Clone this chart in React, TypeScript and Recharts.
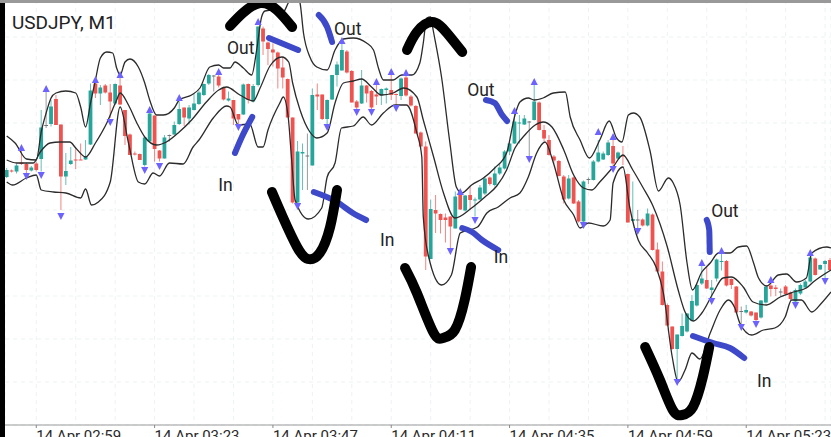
import React from "react";
import { ComposedChart, Bar, Line, XAxis, YAxis, CartesianGrid, ReferenceDot } from "recharts";

// The source shows no price scale, so levels are read as chart-height units counted from the top.
// [open, high, low, close]
const candleRows: number[][] = [
  [177,168,178,170],[170.5,169.5,172.5,171.5],[171.5,163.5,173.5,165.5],[162.5,148,165,164],[164,162.5,175,170],[170.5,166,171.5,167.5],
  [163.5,161.5,171.5,170],[159,110,171.5,127.5],[125,92,128,125],[124,100,126.5,106.5],[99,95,125,125],[124.5,124.5,210,176.5],
  [176.5,153,185,171],[164,147,165,160.5],[159.5,148,169,160.5],[159.5,143.5,160,160],[159.5,140,160,156.5],[144.5,83.5,145,90.5],
  [83.5,80,98,93.5],[93.5,85,105,87.5],[85.5,84,93.5,92.5],[92.5,84,118,101.5],[103.5,83.5,105,84],[85.5,76.5,105,104.5],
  [110,110,145,136],[134.5,133.5,155,155],[153.5,151.5,155.5,154.5],[154,153.5,160,160],[165,137.5,166.5,137.5],[141.5,112,142,113.5],
  [115.5,115.5,161.5,149],[150.5,150,161.5,158.5],[158.5,135,158.5,137.5],[135,134.5,141.5,135],[134.5,121.5,135,125],[124,101.5,125,109],
  [107.5,107.5,126,117.5],[118.5,105,124.5,107.5],[110,93.5,110.5,103.5],[104,90.5,105,92.5],[95,83.5,96,84],[83.5,74,85,75],
  [75.5,75,91.5,75.5],[76.5,75,87.5,85.5],[87.5,86.5,100.5,99.5],[100.5,91.5,101.5,98.5],[100,100,125,118.5],[114,114,125,119.5],
  [114.5,83.5,115,84.5],[84,83.5,103.5,100],[101.5,84,102.5,86],[85,26.5,86.5,26.5],[28.5,26.5,55,41.5],[42.5,41.5,65,49],
  [49.5,43.5,66.5,52.5],[52.5,51.5,88.5,68.5],[67.5,56.5,88.5,77.5],[79,78.5,117.5,117.5],[117.5,117.5,203.5,202.5],[202.5,141,204,151.5],
  [153.5,143.5,190,152],[155.5,133.5,190,155.5],[165.5,88.5,165.5,95],[94.5,83.5,110,96.5],[94.5,94.5,120,119],[119,99.5,125,100],
  [99.5,75,100,75],[75,61.5,86.5,64.5],[70.5,43.5,70.5,50],[51.5,50,73.5,72.5],[71,70,102.5,102.5],[101.5,100,110,107.5],
  [103.5,70,104,85.5],[85.5,85,102.5,93.5],[91,90,110,107.5],[94.5,85,105,96.5],[95.5,88.5,105,89],[90,87.5,103.5,88.5],
  [90,75,100,95],[94,93.5,106.5,95],[96,77.5,100,78.5],[77.5,75,96.5,95.5],[96.5,95,106.5,105.5],[106,105,133.5,133.5],
  [132.5,131.5,148.5,146.5],[146.5,141.5,270,256.5],[259,199.5,259,209],[210,195,233,213.5],[214,213.5,233.5,220],[217.5,213.5,242.5,220],
  [216.5,216.5,250,226.5],[228.5,191.5,228.5,196.5],[195,190,210,209.5],[210.5,195,211.5,195.5],[195,186.5,210,200],[200,197.5,216.5,199.5],
  [199.5,185,200,187.5],[193.5,176.5,195,178.5],[177.5,176.5,185.5,184],[185,166.5,186.5,173.5],[173.5,164,175,167.5],[168.5,150,169.5,151.5],
  [151.5,141.5,155,143.5],[143.5,113.5,144,121.5],[123.5,115,143.5,122.5],[124.5,115,125,118.5],[121.5,121,156.5,121.5],[120,85,120.5,101.5],
  [102.5,101.5,130.5,130],[130,125,141.5,138.5],[140,135,155.5,155],[156.5,155,163.5,160.5],[161,160,176.5,176],[176.5,175,203.5,199.5],
  [198.5,175,199.5,178.5],[177.5,176.5,204,203.5],[201.5,200,222.5,221.5],[221.5,180.5,223.5,181.5],[179,177.5,184,179],[180,160,180.5,161.5],
  [161.5,140,162.5,152.5],[159.5,151.5,160,153.5],[155,140,156,142.5],[146,137.5,166.5,163.5],[158.5,151.5,159,152.5],[155,146,165,156.5],
  [174,173.5,222.5,222.5],[221,181.5,221.5,219],[219.5,210,228,219.5],[219.5,218.5,226.5,225.5],[225.5,208.5,226.5,213.5],[214.5,213.5,250.5,250],
  [249.5,242.5,272.5,271.5],[271.5,261.5,305.5,305],[305,303.5,326.5,325.5],[326.5,326.5,349.5,349],[349,334.5,380,334.5],[336,313.5,336.5,326],
  [331.5,313,332.5,313.5],[320.5,295,321.5,301],[305.5,283.5,306.5,285],[283.5,265,285,278.5],[280,266.5,289,288.5],[290,280,300,287.5],
  [278.5,258.5,281.5,259.5],[261.5,253.5,270.5,261],[261,260,286.5,285.5],[279,278.5,289,285],[286.5,286,313.5,312.5],[311,306.5,325,311],
  [312.5,305,313.5,310],[311.5,311,316.5,315.5],[312.5,312.5,321.5,320],[317.5,300,318.5,300.5],[302.5,285,303.5,286.5],[285.5,281.5,296.5,289],
  [287.5,285,296,289],[291.5,288.5,296.5,291.5],[286.5,285,295.5,294],[292.5,291.5,300.5,299],[301.5,288.5,303.5,290],[293.5,283.5,295,285],
  [287.5,280,288.5,281.5],[281.5,255,282.5,257.5],[258.5,257.5,275.5,275],[269.5,264.5,270,265],[264,260,278.5,261],[260,258,271,270],
];

// [candle index, level]
const upperBand: number[][] = [
  [0,136],[1.7,143],[4,159],[6,160],[7,132],[8,113],[9,98],[10,93],[12,91],[14,93],[15,107],[16,127],[17,103],[18,80],[19,58],[20.3,52],[21.5,53],[22.3,68],[23,75],[24,62],[25,59],[26.7,67],[28,83],[29,100],[30.4,115],[31.8,115],[34,108],[35,100],[37.5,95],[39.2,88],[41.2,67],[43,65],[44,68],[45.3,68],[46.3,62],[48,68],[49.7,75],[50.7,50],[51.7,17],[52.4,11],[54,10],[55.8,14],[57.1,3],[58.3,-10],[59.5,3],[60.2,33],[61.5,57],[62.9,67],[65,70],[66.6,50],[68.3,39],[70.3,38],[73,43],[74.4,50],[75.4,68],[76.4,80],[78.4,80],[80.1,75],[82.2,75],[83.8,63],[84.5,43],[85.2,18],[86,17],[86.5,30],[88.2,77],[89.9,143],[91.2,187],[92.3,193],[94.3,185],[96.7,178],[99,168],[101.4,153],[103.1,115],[104.1,102],[105.8,98],[107,100],[108.8,98],[110.9,93],[113.3,92],[114.3,117],[116.3,140],[118.2,158],[120.3,140],[122.2,121],[123.7,138],[124.8,142],[126.1,115],[127.1,113],[128.4,117],[130.5,151],[132.2,191],[134.2,178],[135.2,183],[136.6,205],[138,263],[139.1,290],[141,272],[142.7,263],[144.4,253],[146.7,253],[148.4,247],[150.1,246],[151.5,263],[152.5,278],[154.2,286],[156.5,275],[158.2,274],[160.2,282],[162.2,278],[163.3,253],[166.3,247],[167.2,248],
];
const middleBand: number[][] = [
  [0,160],[2,163],[5.4,163],[6.8,152],[8.8,143],[10.8,142],[12.8,142],[14,148],[16,157],[18,143],[20.3,123],[22.3,100],[23,93],[24.7,105],[26.4,123],[28,137],[30.4,145],[32.4,142],[35,132],[37.5,120],[40.5,102],[43,90],[44.6,87],[47.3,95],[50,101],[51.4,88],[53.4,66],[55.8,57],[57.2,62],[58,83],[59.5,110],[61.5,132],[62.9,138],[65,133],[66.6,103],[68.3,83],[70.3,81],[72,79],[74,87],[76,95],[78.4,93],[80.5,88],[83.2,97],[84.5,120],[86.6,157],[88.6,193],[90.9,218],[94.3,208],[97,197],[99.4,186],[101.4,170],[103.1,148],[105.1,135],[107.2,125],[108.8,122],[110.6,127],[113,150],[115,175],[117,188],[118.7,190],[120.3,182],[123,167],[125,155],[127,170],[129,187],[131,205],[134,247],[136.2,290],[137.6,312],[139.3,321],[141,313],[143.3,293],[145.3,278],[147,277],[149.4,287],[151.4,302],[154.1,305],[156.9,297],[159.6,292],[162.2,288],[163.6,282],[167.2,270],
];
const lowerBand: number[][] = [
  [0,182],[1.2,185],[4,178],[6,175],[7,190],[9.5,192],[12,193],[15,198],[16,189],[17.2,205],[18.6,202],[21,182],[23,107],[24.7,143],[26.7,182],[28,184],[29.7,173],[31,176],[33,163],[35.8,164],[37.8,147],[39,140],[41.9,118],[44.6,106],[45.3,107],[47,125],[49.3,124],[51,147],[52,147],[53,130],[55.4,103],[56.1,97],[57.1,117],[57.8,160],[58.5,200],[61.2,219],[63.9,208],[65,177],[66.6,163],[67.9,128],[70.3,126],[72.3,117],[74,125],[76.4,113],[78.8,105],[81.1,105],[83.2,133],[84.2,157],[84.5,217],[85.6,257],[88.2,285],[90.2,275],[92,233],[95.5,227],[97.4,213],[99.7,207],[102.1,198],[104.1,193],[105.8,177],[107.5,153],[109.2,142],[110.9,163],[113,200],[115,215],[116.3,228],[118,223],[121,226],[122.4,220],[123,183],[125,167],[126.4,208],[128.1,240],[130,253],[131.8,268],[133.2,293],[135,357],[136.2,382],[137.6,370],[139,353],[140.6,359],[142.7,333],[144.7,310],[146.4,300],[147.7,308],[148.7,323],[151.1,335],[153.5,330],[155.8,328],[157.9,317],[159.2,300],[161.2,300],[163.3,312],[165.3,303],[167.2,292],
];

const upSignals: number[][] = [[3,148],[8,89],[18,80],[23,75],[29,110],[35,98],[43,72],[51,22],[68,41],[75,82],[78,72],[81,73],[92,192],[103,111],[107,82],[120,132],[123,137],[141,263],[145,251],[155,280],[163,253]];
const downSignals: number[][] = [[4,176],[7,175],[11,216],[21,122],[28,170],[31,166],[47,127],[59,206],[65,127],[71,112],[74,112],[79,108],[90,251],[95,220],[106,159],[117,225],[123,169],[128,231],[136,382],[143,301],[149,327],[152,324],[160,305],[166,281]];

// Hand-drawn annotations
const blackStrokes: number[][][] = [
  [[45.3,26],[47.9,13],[51.4,3],[54.8,10],[57.9,27]],
  [[53.8,192],[56,217],[58.9,247],[61.1,259],[63.5,253],[65.6,227],[67,190]],
  [[81.2,50],[83.2,32],[86.3,22],[89.3,33],[92.4,52]],
  [[80.8,268],[83.2,293],[86.5,332],[88.5,338],[90.9,330],[92.9,300],[94.2,267]],
  [[129.5,347],[132.5,380],[135.1,410],[137,415],[139.2,407],[141.2,377],[142.5,347]],
];
const blueStrokes: number[][][] = [
  [[46.3,153],[47.7,137],[49.8,117]],
  [[53.2,38],[59.1,50]],
  [[63.3,15],[65,27],[66,42]],
  [[62.3,192],[67,202],[70.2,213],[72.9,220]],
  [[97.2,100],[99,103],[100.5,115],[101.5,121]],
  [[92.4,228],[94.4,232],[96.4,240],[99.7,250]],
  [[142,220],[142.5,230],[142.6,252]],
  [[139.2,336],[143.3,343],[146.7,348],[149.6,358]],
];
const noteLabels: string[] = ["Out", "In", "Out", "In", "Out", "In", "Out", "In"];
const notePositions: number[][] = [[44.7,54],[42.9,191],[66.4,35],[75.7,246],[93.4,96],[98.8,263],[142.9,217],[152.2,387]];

const gridTicks: number[] = [6,14,22,30,38,46,54,62,70,78,86,94,102,110,118,126,134,142,150,158,166];
const timeLabels: Record<number, string> = {
  6: "14 Apr 02:59", 30: "14 Apr 03:23", 54: "14 Apr 03:47", 78: "14 Apr 04:11",
  102: "14 Apr 04:35", 126: "14 Apr 04:59", 150: "14 Apr 05:23",
};
const levelTicks: number[] = [37,80,123,167,210,253,296,339,382];

const GREEN = "#26a69a";
const RED = "#ef5350";
const DOJI = "#6f7478";
const FONT = "Roboto, sans-serif";

const candles = candleRows.map(([open, high, low, close], k) => ({ k, open, high, low, close }));
const toPoints = (rows: number[][]) => rows.map(([k, y]) => ({ k, y }));

const CandleShape = (props: any) => {
  const { x, y, width, height, payload } = props;
  const top = Math.min(y, y + height);
  const span = Math.abs(height);
  const unit = span / Math.max(payload.low - payload.high, 0.01);
  const cx = x + width / 2;
  const upper = Math.min(payload.open, payload.close);
  const lower = Math.max(payload.open, payload.close);
  const flat = payload.open === payload.close;
  const color = flat ? DOJI : payload.close < payload.open ? GREEN : RED;
  const bodyY = top + (upper - payload.high) * unit;
  const bodyH = Math.max((lower - upper) * unit, 1);
  return (
    <g>
      <line x1={cx} x2={cx} y1={top} y2={top + span} stroke={color} strokeWidth={1} opacity={0.7} />
      <rect x={cx - 1.9} width={3.8} y={bodyY} height={bodyH} fill={color} />
    </g>
  );
};

const UpArrow = (props: any) => {
  const { cx, cy, index } = props;
  return <path key={index} d={`M${cx} ${cy - 4}L${cx + 3.6} ${cy + 3}L${cx - 3.6} ${cy + 3}Z`} fill="#6c63ff" />;
};
const DownArrow = (props: any) => {
  const { cx, cy, index } = props;
  return <path key={index} d={`M${cx} ${cy + 4}L${cx + 3.6} ${cy - 3}L${cx - 3.6} ${cy - 3}Z`} fill="#6c63ff" />;
};

const TimeTick = (props: any) => {
  const { x, payload } = props;
  const text = timeLabels[payload.value];
  if (!text) return <g />;
  return (
    <g>
      <line x1={x} x2={x} y1={425} y2={428} stroke="#888" />
      <text x={x} y={441} textAnchor="start" fontFamily={FONT} fontSize={15} fill="#2a2a2a">{text}</text>
    </g>
  );
};

const NoteShape = (label: string) => (props: any) => (
  <g opacity={0.99}>
    <text x={props.cx} y={props.cy} fontFamily={FONT} fontSize={17.5} fontWeight={400} fill="#222">{label}</text>
  </g>
);

export default function App() {
  return (
    <div style={{ position: "absolute", left: 0, top: 0, width: 831, height: 437, overflow: "hidden", background: "#fff" }}>
      <ComposedChart
        width={831}
        height={437}
        data={candles}
        margin={{ top: 0, right: 0, bottom: 0, left: 5 }}
      >
        <CartesianGrid stroke="#edf2f5" strokeDasharray="4 4" />
        <XAxis
          dataKey="k"
          type="number"
          domain={[-0.345, 167.2]}
          allowDataOverflow
          ticks={gridTicks}
          interval={0}
          height={12}
          tick={<TimeTick />}
          tickLine={false}
          axisLine={{ stroke: "#999", strokeWidth: 1.2 }}
        />
        <YAxis
          hide
          type="number"
          reversed
          domain={[0, 425]}
          allowDataOverflow
          ticks={levelTicks}
          interval={0}
        />
        <Bar dataKey={(d: any) => [d.high, d.low]} barSize={4} shape={<CandleShape />} isAnimationActive={false} />
        <Line data={toPoints(upSignals)} dataKey="y" stroke="none" dot={<UpArrow />} activeDot={false} isAnimationActive={false} />
        <Line data={toPoints(downSignals)} dataKey="y" stroke="none" dot={<DownArrow />} activeDot={false} isAnimationActive={false} />
        {[upperBand, middleBand, lowerBand].map((band, i) => (
          <Line key={i} data={toPoints(band)} dataKey="y" type="monotone" stroke="#2b2b2b" strokeWidth={1.3} dot={false} activeDot={false} isAnimationActive={false} />
        ))}
        {blueStrokes.map((s, i) => (
          <Line key={`b${i}`} data={toPoints(s)} dataKey="y" type="monotone" stroke="#3d49c9" strokeWidth={6} strokeLinecap="round" dot={false} activeDot={false} isAnimationActive={false} />
        ))}
        {blackStrokes.map((s, i) => (
          <Line key={`k${i}`} data={toPoints(s)} dataKey="y" type="natural" stroke="#000" strokeWidth={10} strokeLinecap="round" dot={false} activeDot={false} isAnimationActive={false} />
        ))}
        {notePositions.map(([k, y], i) => (
          <ReferenceDot key={`n${i}`} x={k} y={y} r={0} shape={NoteShape(noteLabels[i])} />
        ))}
      </ComposedChart>
      <div style={{ position: "absolute", left: 12, top: 12, fontFamily: FONT, fontSize: 19, lineHeight: "22px", color: "#222" }}>USDJPY, M1</div>
      <div style={{ position: "absolute", left: 0, top: 0, width: 831, height: 3, background: "#999" }} />
      <div style={{ position: "absolute", left: 0, top: 3, width: 5, height: 434, background: "#000" }} />
    </div>
  );
}
